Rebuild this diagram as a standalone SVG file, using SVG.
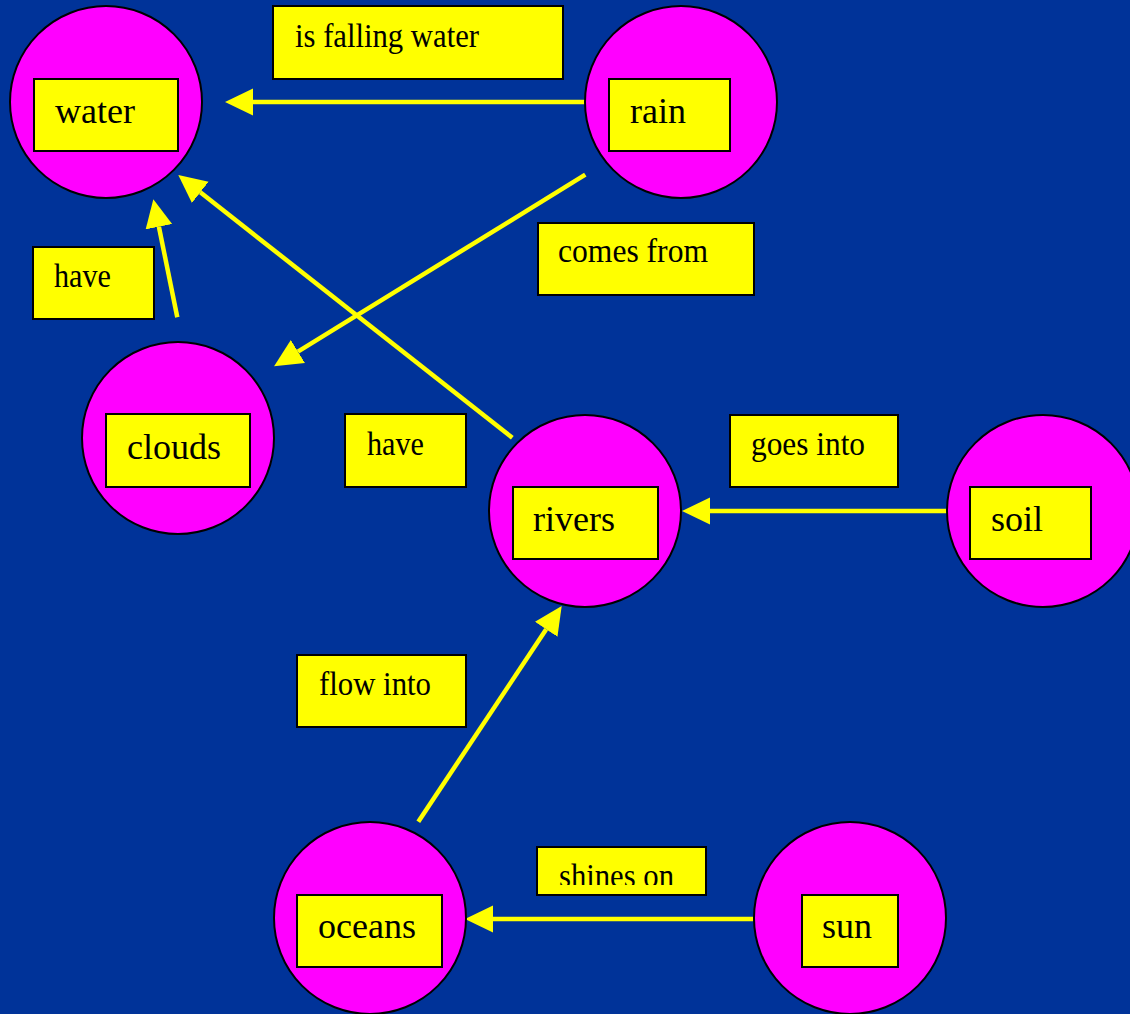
<svg xmlns="http://www.w3.org/2000/svg" width="1130" height="1014" viewBox="0 0 1130 1014">
<style>
.circ{fill:#FF00FF;stroke:#000;stroke-width:2}
.box{fill:#FFFF00;stroke:#000;stroke-width:2}
.nt{font-family:"Liberation Serif","Times New Roman",serif;font-size:36px;fill:#000}
.lt{font-family:"Liberation Serif","Times New Roman",serif;font-size:34px;fill:#000}
.conn{stroke:#FFFF00;stroke-width:4.5;fill:none;marker-end:url(#ah)}
</style>
<defs>
<marker id="ah" viewBox="0 -14 28 28" refX="0" refY="0" markerWidth="28" markerHeight="28" markerUnits="userSpaceOnUse" orient="auto">
<path d="M0,-13.5 L28,0 L0,13.5 Z" fill="#FFFF00"/>
</marker>
<clipPath id="shclip"><rect x="537" y="847" width="170" height="38"/></clipPath>
</defs>
<rect x="0" y="0" width="1130" height="1014" fill="#003399"/>

<g id="connectors">
<line class="conn" x1="585" y1="102" x2="253" y2="102"/>
<line class="conn" x1="512.3" y1="437.7" x2="200.3" y2="192.3"/>
<line class="conn" x1="177.3" y1="317.3" x2="158.9" y2="226.7"/>
<line class="conn" x1="585.3" y1="174.7" x2="297.9" y2="351.6"/>
<line class="conn" x1="947" y1="511" x2="710" y2="511"/>
<line class="conn" x1="418.3" y1="821.7" x2="546.2" y2="629.3"/>
<line class="conn" x1="753" y1="919" x2="493" y2="919"/>
</g>

<g id="node-water">
<circle class="circ" cx="106" cy="102" r="96"/>
<rect class="box" x="34" y="79" width="144" height="72"/>
<text class="nt" x="55" y="123">water</text>
</g>
<g id="node-rain">
<circle class="circ" cx="681" cy="102" r="96"/>
<rect class="box" x="609" y="79" width="121" height="72"/>
<text class="nt" x="630" y="123">rain</text>
</g>
<g id="node-clouds">
<circle class="circ" cx="178" cy="438" r="96"/>
<rect class="box" x="106" y="414" width="144" height="73"/>
<text class="nt" x="127" y="459">clouds</text>
</g>
<g id="node-rivers">
<circle class="circ" cx="585" cy="511" r="96"/>
<rect class="box" x="513" y="487" width="145" height="72"/>
<text class="nt" x="533" y="531">rivers</text>
</g>
<g id="node-soil">
<circle class="circ" cx="1043" cy="511" r="96"/>
<rect class="box" x="970" y="487" width="121" height="72"/>
<text class="nt" x="991" y="531">soil</text>
</g>
<g id="node-oceans">
<circle class="circ" cx="370" cy="918" r="96"/>
<rect class="box" x="297" y="895" width="145" height="72"/>
<text class="nt" x="318" y="938">oceans</text>
</g>
<g id="node-sun">
<circle class="circ" cx="850" cy="918" r="96"/>
<rect class="box" x="802" y="895" width="96" height="72"/>
<text class="nt" x="822" y="938">sun</text>
</g>

<g id="label-is-falling-water">
<rect class="box" x="273" y="6" width="290" height="73"/>
<text class="lt" x="295" y="47" textLength="184" lengthAdjust="spacingAndGlyphs">is falling water</text>
</g>
<g id="label-have-1">
<rect class="box" x="33" y="247" width="121" height="72"/>
<text class="lt" x="54" y="287" textLength="57" lengthAdjust="spacingAndGlyphs">have</text>
</g>
<g id="label-comes-from">
<rect class="box" x="538" y="223" width="216" height="72"/>
<text class="lt" x="558" y="262" textLength="150" lengthAdjust="spacingAndGlyphs">comes from</text>
</g>
<g id="label-have-2">
<rect class="box" x="345" y="414" width="121" height="73"/>
<text class="lt" x="367" y="455" textLength="57" lengthAdjust="spacingAndGlyphs">have</text>
</g>
<g id="label-goes-into">
<rect class="box" x="730" y="415" width="168" height="72"/>
<text class="lt" x="751" y="455" textLength="114" lengthAdjust="spacingAndGlyphs">goes into</text>
</g>
<g id="label-flow-into">
<rect class="box" x="297" y="655" width="169" height="72"/>
<text class="lt" x="319" y="695" textLength="112" lengthAdjust="spacingAndGlyphs">flow into</text>
</g>
<g id="label-shines-on">
<rect class="box" x="537" y="847" width="169" height="48"/>
<text class="lt" x="559" y="887" textLength="115" lengthAdjust="spacingAndGlyphs" clip-path="url(#shclip)">shines on</text>
</g>
</svg>
